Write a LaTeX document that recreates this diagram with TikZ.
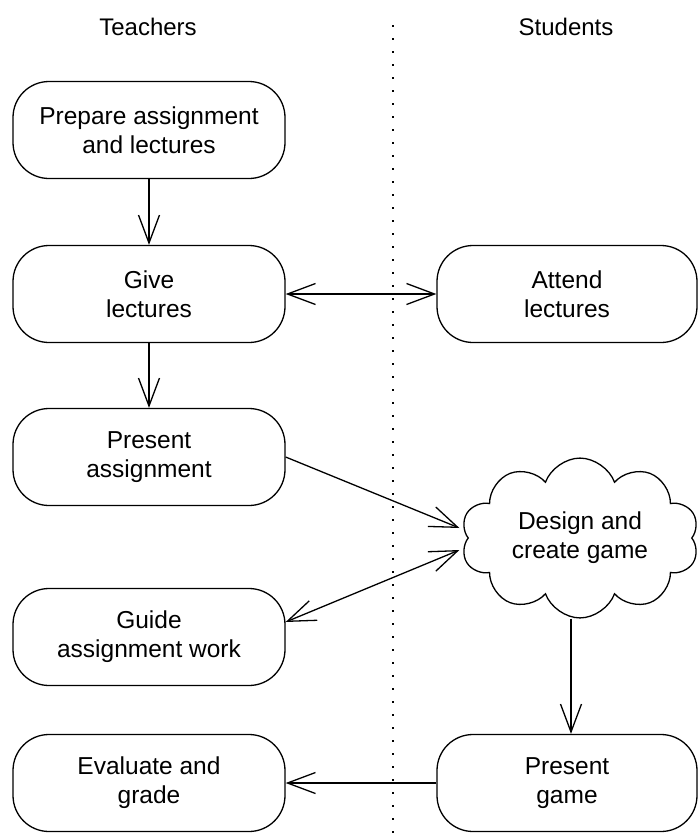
\documentclass[tikz,border=0pt]{standalone}
\usepackage{fontspec}
\setmainfont{Liberation Sans}
\usetikzlibrary{positioning,arrows.meta,shapes.symbols}
\tikzset{
  act/.style={draw,rounded corners=36pt,line width=1.3pt,align=center,minimum width=272pt,minimum height=97pt,inner sep=0pt},
  cld/.style={draw,cloud,cloud puffs=10,cloud puff arc=140,aspect=1.55,line width=1.3pt,align=center,minimum width=238pt,minimum height=152pt,inner sep=0pt},
  hdr/.style={font=\fontsize{24}{29}\selectfont},
  arr/.style={-{Straight Barb[length=28pt,width=21pt,line width=1.3pt]},line width=1.3pt},
  darr/.style={{Straight Barb[length=28pt,width=21pt,line width=1.3pt]}-{Straight Barb[length=28pt,width=21pt,line width=1.3pt]},line width=1.3pt},
}
\begin{document}
\begin{tikzpicture}[x=1pt,y=1pt,every node/.style={font=\fontsize{24.5}{29}\selectfont}]
  \useasboundingbox (0,0) rectangle (697,-839);
  % lanes
  \node[hdr] (tch) at (148,-27) {Teachers};
  \node[hdr] (stu) at (566,-27) {Students};
  \draw[line width=1.5pt,dash pattern=on 1.5pt off 11.5pt] (393,-25) -- (393,-839);
  % teacher side
  \node[act] (prep) at (149,-130) {Prepare assignment\\and lectures};
  \node[act] (give) at (149,-294) {Give\\lectures};
  \node[act] (pres) at (149,-457) {Present\\assignment};
  \node[act] (guide) at (149,-637) {Guide\\assignment work};
  \node[act] (eval) at (149,-783) {Evaluate and\\grade};
  % student side
  \node[act,minimum width=260pt] (att) at (567,-294) {Attend\\lectures};
  \node[cld] (dsg) at (580,-538) {Design and\\create game};
  \node[act,minimum width=260pt] (game) at (567,-783) {Present\\game};
  % flow
  \draw[arr] (prep) -- (give);
  \draw[arr] (give) -- (pres);
  \draw[darr] (give) -- (att);
  \draw[arr] (pres.east) -- ([xshift=-8pt,yshift=10pt]dsg.west);
  \draw[darr] ([yshift=15pt]guide.east) -- ([xshift=-8pt,yshift=-12pt]dsg.west);
  \draw[arr] (dsg.south -| 571,0) -- (game.north -| 571,0);
  \draw[arr] (game) -- (eval);
\end{tikzpicture}
\end{document}
